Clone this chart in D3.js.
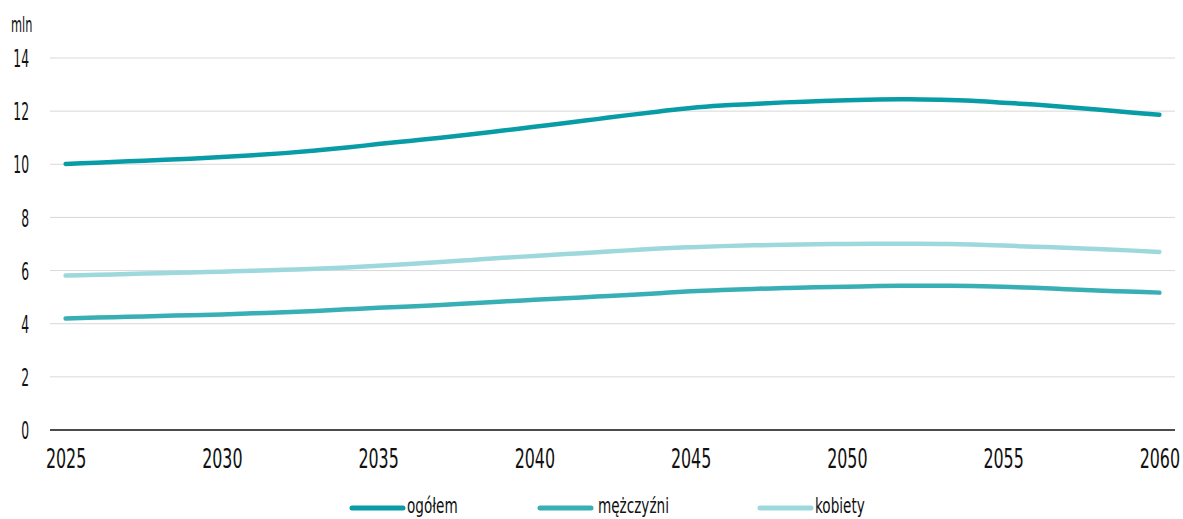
<!DOCTYPE html>
<html>
<head>
<meta charset="utf-8">
<script src="https://cdn.jsdelivr.net/npm/d3@7"></script>
<style>
  html, body { margin: 0; padding: 0; background: #fff; }
  svg { display: block; }
  text { font-family: "DejaVu Sans Condensed", "Liberation Sans Narrow", sans-serif; fill: #111; }
</style>
</head>
<body>
<svg id="chart" width="1183" height="519"></svg>
<script>
// Years of the projection
const years = d3.range(2025, 2061);

// Population, millions
const ogolem = [10.01, 10.06, 10.11, 10.16, 10.21, 10.27, 10.34, 10.42, 10.52, 10.63,
                10.76, 10.88, 11.00, 11.13, 11.27, 11.41, 11.55, 11.70, 11.85, 11.99,
                12.12, 12.21, 12.27, 12.33, 12.37, 12.41, 12.44, 12.45, 12.43, 12.39,
                12.32, 12.25, 12.16, 12.06, 11.96, 11.86];
const mezczyzni = [4.20, 4.23, 4.26, 4.29, 4.32, 4.35, 4.39, 4.43, 4.48, 4.54,
                   4.60, 4.65, 4.70, 4.77, 4.84, 4.90, 4.96, 5.02, 5.08, 5.15,
                   5.22, 5.27, 5.31, 5.34, 5.37, 5.39, 5.42, 5.43, 5.43, 5.42,
                   5.39, 5.35, 5.30, 5.25, 5.21, 5.17];
const kobiety = [5.81, 5.84, 5.87, 5.90, 5.93, 5.96, 5.99, 6.03, 6.07, 6.12,
                 6.18, 6.25, 6.32, 6.40, 6.48, 6.55, 6.62, 6.69, 6.76, 6.83,
                 6.88, 6.92, 6.95, 6.97, 6.99, 7.00, 7.01, 7.01, 7.00, 6.98,
                 6.94, 6.90, 6.86, 6.81, 6.76, 6.70];

const seriesNames = ["ogółem", "mężczyźni", "kobiety"];
const seriesColors = ["#089ca6", "#37afb5", "#9dd8dc"];
const yTicks = [0, 2, 4, 6, 8, 10, 12, 14];
const xTickYears = [2025, 2030, 2035, 2040, 2045, 2050, 2055, 2060];
const unitLabel = "mln";

const series = [ogolem, mezczyzni, kobiety];

const svg = d3.select("#chart");
const plot = { left: 50, right: 1175, top: 58, bottom: 430 };

const x = d3.scalePoint().domain(years).range([plot.left, plot.right]).padding(0.5);
const y = d3.scaleLinear().domain([0, 14]).range([plot.bottom, plot.top]);

// horizontal gridlines
svg.append("g")
  .selectAll("line")
  .data(yTicks.filter(d => d > 0))
  .join("line")
  .attr("x1", plot.left).attr("x2", plot.right)
  .attr("y1", d => y(d)).attr("y2", d => y(d))
  .attr("stroke", "#d9d9d9").attr("stroke-width", 1);

// y tick labels (narrow, tall digits)
const yAxis = d3.axisLeft(y).tickValues(yTicks).tickSize(0).tickPadding(0);
const gy = svg.append("g").attr("transform", "translate(29,0)").call(yAxis);
gy.select(".domain").remove();
gy.attr("font-family", null).attr("font-size", null);
gy.selectAll("text")
  .attr("x", 0).attr("dy", null)
  .attr("dominant-baseline", "central")
  .attr("text-anchor", "end")
  .style("font-size", "25px")
  .attr("transform", "scale(0.55,1)");

// unit label
svg.append("text")
  .attr("transform", "translate(11,32) scale(0.6,1)")
  .style("font-size", "21px")
  .text(unitLabel);

// x axis
const xAxis = d3.axisBottom(x).tickValues(xTickYears).tickSize(0).tickPadding(0);
const gx = svg.append("g").attr("transform", `translate(0,${plot.bottom})`).call(xAxis);
gx.attr("font-family", null).attr("font-size", null);
gx.select(".domain").attr("stroke", "#111").attr("stroke-width", 1.6)
  .attr("d", `M${plot.left},0H${plot.right}`);
gx.selectAll("text")
  .attr("y", 0).attr("dy", null).attr("x", 0)
  .style("font-size", "26px")
  .attr("transform", "translate(0,38) scale(0.68,1)");

// lines
const line = d3.line()
  .x((d, i) => x(years[i]))
  .y(d => y(d))
  .curve(d3.curveMonotoneX);

svg.append("g")
  .selectAll("path")
  .data(series)
  .join("path")
  .attr("d", d => line(d))
  .attr("fill", "none")
  .attr("stroke", (d, i) => seriesColors[i])
  .attr("stroke-width", 4.5)
  .attr("stroke-linecap", "round")
  .attr("stroke-linejoin", "round");

// legend
const legendX = [352, 540, 760];
const legend = svg.append("g")
  .selectAll("g")
  .data(seriesNames)
  .join("g")
  .attr("transform", (d, i) => `translate(${legendX[i]},508)`);
legend.append("line")
  .attr("x1", 0).attr("x2", 51).attr("y1", 0).attr("y2", 0)
  .attr("stroke", (d, i) => seriesColors[i])
  .attr("stroke-width", 5)
  .attr("stroke-linecap", "round");
legend.append("text")
  .attr("transform", (d, i) => `translate(${i === 1 ? 58 : 55},5) scale(0.72,1)`)
  .style("font-size", "21px")
  .text(d => d);
</script>
</body>
</html>
